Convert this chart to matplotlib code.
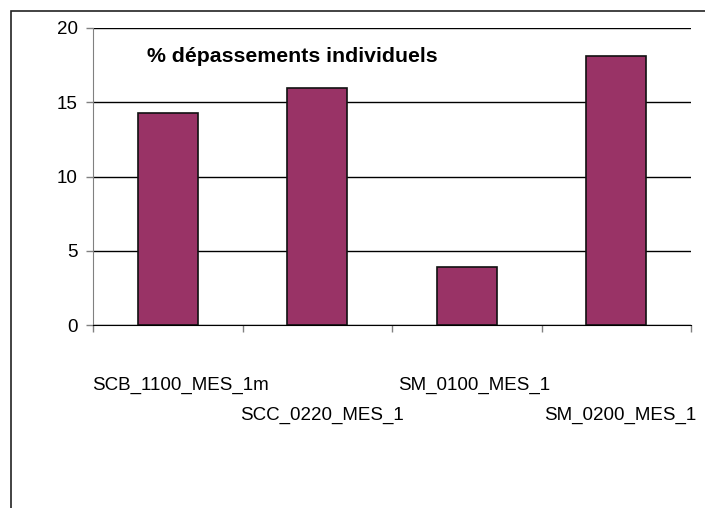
import matplotlib
matplotlib.use("Agg")
import matplotlib.pyplot as plt
from matplotlib.patches import Rectangle

categories = ["SCB_1100_MES_1m", "SCC_0220_MES_1", "SM_0100_MES_1", "SM_0200_MES_1"]
values = [14.26, 15.98, 3.88, 18.11]
yticks = [0, 5, 10, 15, 20]
title = "% dépassements individuels"

plt.rcParams['font.family'] = ['Liberation Sans', 'DejaVu Sans']

W, H = 705, 508
fig = plt.figure(figsize=(W / 100, H / 100), dpi=100)

# figure frame (extends past right and bottom edges)
fig.patches.append(Rectangle((11 / W, -0.1), 1.2, (H - 11) / H + 0.1,
                             transform=fig.transFigure, fill=False,
                             edgecolor='#222222', linewidth=1.2))

ax = fig.add_axes([93 / W, 183 / H, 598 / W, 297 / H])
x = list(range(len(categories)))
ax.bar(x, values, width=0.4, color='#993366', edgecolor='#111111', linewidth=1.2, zorder=3)

ax.set_xlim(-0.5, len(categories) - 0.5)
ax.set_ylim(0, 20)
ax.set_yticks(yticks)
ax.set_yticklabels([str(t) for t in yticks], fontsize=13.5)
ax.yaxis.grid(True, color='black', linewidth=1, zorder=1)
ax.set_axisbelow(True)
ax.tick_params(axis='y', length=5, width=1, color='#808080', pad=6)

ax.set_xticks([i - 0.5 for i in range(len(categories) + 1)])
ax.set_xticklabels([])
ax.tick_params(axis='x', length=5, width=1, color='#808080')

for s in ['top', 'right']:
    ax.spines[s].set_visible(False)
ax.spines['left'].set_color('#808080')
ax.spines['bottom'].set_color('black')
ax.spines['bottom'].set_zorder(4)

# staggered category labels
label_shift = [0.082, 0.03, 0.05, 0.025]
for i, (c, sh) in enumerate(zip(categories, label_shift)):
    ypix = 385 if i % 2 == 0 else 415
    ax.text(i + sh, (325 - ypix) / 297 * 20, c, ha='center', va='center',
            fontsize=13.5, clip_on=False)

ax.text((147 - 93) / 598, (325 - 56) / 297, title, transform=ax.transAxes,
        ha='left', va='center', fontsize=15.3, fontweight='bold')

fig.savefig("out.png", dpi=100)
